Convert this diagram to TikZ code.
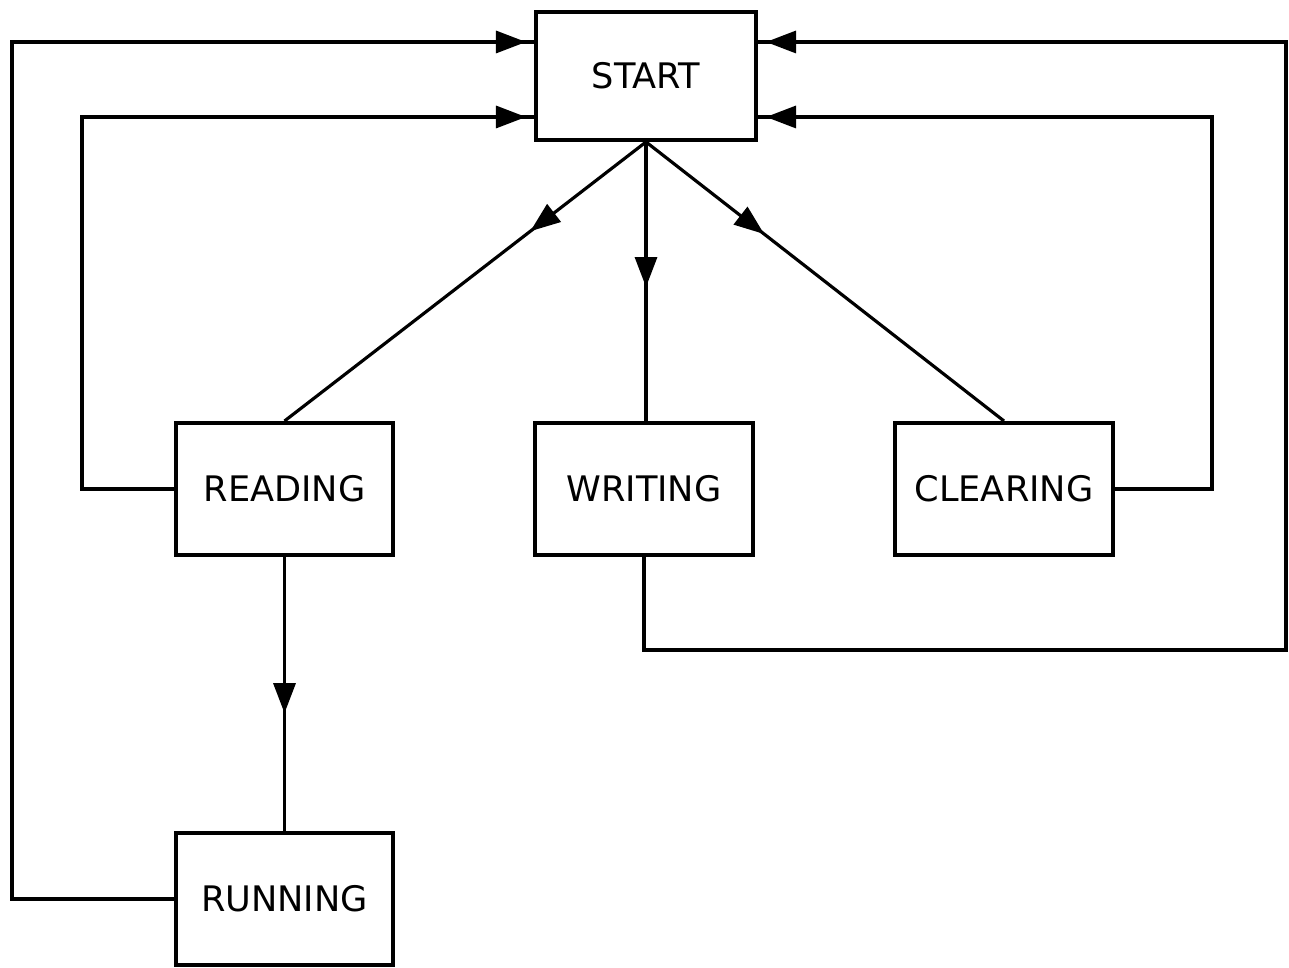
\documentclass[tikz,border=0pt]{standalone}
\usepackage{fontspec}
\setmainfont{DejaVu Sans}
\usetikzlibrary{arrows.meta,decorations.markings}
\tikzset{
  box/.style={draw, line width=1.1pt, minimum width=#1, inner sep=0pt, font=\fontsize{10}{12}\selectfont},
  conn/.style={line width=0.9pt},
  tipat/.style={postaction={decorate}, decoration={markings, mark=at position #1 with {\arrow{Triangle[length=0.3cm,width=0.22cm]}}}}
}
\begin{document}
\begin{tikzpicture}[x=0.01cm,y=-0.01cm]
\useasboundingbox (0,0) rectangle (1289,968);
\node[box=2.2cm, minimum height=1.28cm] (start) at (646,76) {START};
\node[box=2.17cm, minimum height=1.32cm] (reading) at (284.5,489) {READING};
\node[box=2.18cm, minimum height=1.32cm] (writing) at (644,489) {WRITING};
\node[box=2.18cm, minimum height=1.32cm] (clearing) at (1004,489) {CLEARING};
\node[box=2.17cm, minimum height=1.32cm] (running) at (284.5,899) {RUNNING};
\coordinate (rl) at (82,117);
\coordinate (ul) at (12,42);
\coordinate (rr) at (1212,117);
\coordinate (wb) at (645,650);
\coordinate (ur) at (1286,42);
% tree
\draw[conn, tipat=0.32] (start.south) -- (reading.north);
\draw[conn, tipat=0.52] (start.south) -- (writing.north -| start.south);
\draw[conn, tipat=0.33] (start.south) -- (clearing.north);
\draw[conn, tipat=0.57] (reading.south) -- (running.north);
% loops
\draw[conn, tipat={-0.08cm}] (reading.west) -| (rl) -- (rl -| start.west);
\draw[conn, tipat={-0.08cm}] (running.west) -| (ul) -- (ul -| start.west);
\draw[conn, tipat={-0.08cm}] (clearing.east) -| (rr) -- (rr -| start.east);
\draw[conn, tipat={-0.08cm}] (writing.south) -- (writing.south |- wb) -| (ur) -- (ur -| start.east);
\end{tikzpicture}
\end{document}
